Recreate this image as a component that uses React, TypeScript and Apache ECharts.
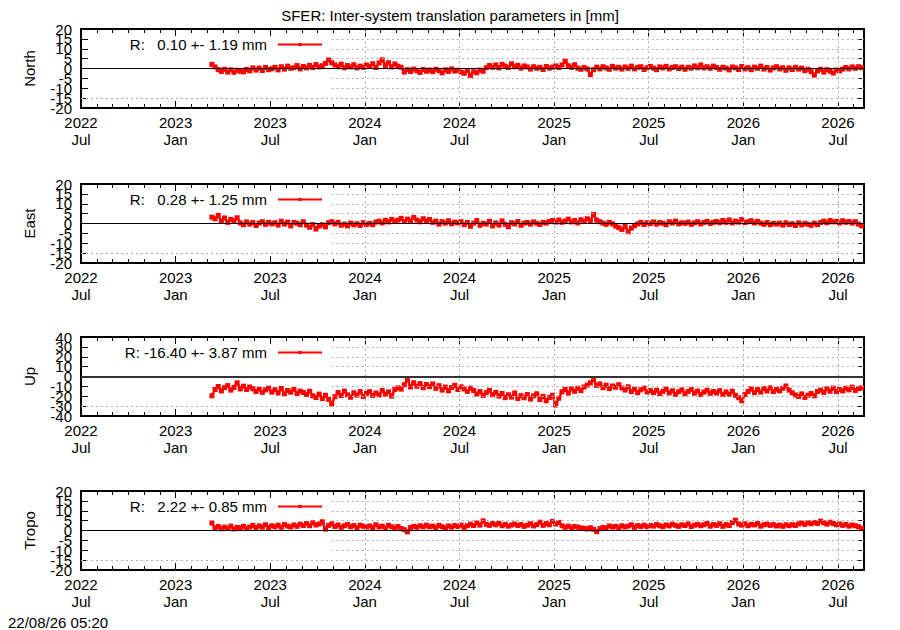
import React, { useEffect, useRef } from 'react';
import * as echarts from 'echarts';

const TITLE = 'SFER: Inter-system translation parameters in [mm]';
const TIMESTAMP = '22/08/26 05:20';
// x axis in months since 2022-07-01
const X_MIN = 0;
const X_MAX = 49.65;
const X_TICK_LABELS = ['2022\nJul', '2023\nJan', '2023\nJul', '2024\nJan', '2024\nJul', '2025\nJan', '2025\nJul', '2026\nJan', '2026\nJul'];
const SAMPLE_START = 8.3;
const SAMPLE_STEP = 0.2;

const PANEL_NAMES = ['North', 'East', 'Up', 'Tropo'];
const LEGEND_NAMES = ['R:   0.10 +- 1.19 mm', 'R:   0.28 +- 1.25 mm', 'R: -16.40 +- 3.87 mm', 'R:   2.22 +- 0.85 mm'];
const Y_MIN = [-20, -20, -40, -20];
const Y_MAX = [20, 20, 40, 20];
const Y_STEP = [5, 5, 10, 5];

const NORTH = [
  2.1, 0.8, -0.6, -1.5, -0.4, -1.8, -0.7, -1.9, -0.9, -1.4,
  -1.7, -0.5, -1.2, 0.3, -0.8, 0.2, -1.0, 0.5, -0.6, -0.1,
  0.6, -0.7, 0.9, -0.3, 1.2, 0.1, 0.4, 1.5, -0.2, 1.0,
  0.3, 1.6, 0.5, 2.0, 0.8, 1.4, 2.6, 4.3, 2.9, 1.8,
  0.9, 2.2, 0.4, 1.5, 0.8, 1.9, 0.3, 1.2, 0.6, 1.8,
  1.0, 2.4, 0.5, 2.8, 4.4, 1.6, 2.9, 0.8, 2.3, 1.2,
  0.6, -1.8, -0.6, -1.5, -0.3, -1.2, -2.0, -0.5, -1.4, -0.8,
  -1.6, -0.4, -1.1, -2.2, -0.7, -1.5, -0.2, -1.3, -0.9, -1.8,
  -2.4, -1.0, -3.5, -1.6, -2.2, -0.8, -1.4, 0.4, 1.5, 0.6,
  1.8, 0.3, 2.1, 1.2, 0.5, 2.4, 0.9, 1.6, 0.2, 1.3,
  0.8, -0.3, 0.9, 0.1, 0.6, -0.5, 1.0, 0.2, 0.7, 1.3,
  0.5, 1.8, 3.7, 1.4, 0.6, 1.9, 0.2, -0.4, 0.5, -0.2,
  -3.1, -0.6, 0.7, -0.2, 0.9, 0.3, -0.4, 1.1, 0.2, 0.6,
  -0.3, 0.8, 0.1, 1.2, -0.2, 0.6, 0.9, -0.5, 0.4, 1.0,
  0.2, -0.6, 0.8, 0.3, 1.1, -0.2, 0.5, 0.9, 0.0, 0.7,
  -0.4, 0.6, 0.2, 1.3, 0.4, 1.8, 0.3, 0.9, 0.1, 1.2,
  0.5, -0.4, 0.6, 0.2, -0.7, 0.8, 0.3, -0.5, 1.0, -0.2,
  0.4, -0.6, 0.7, 0.1, 1.2, -0.3, 0.5, -0.8, 0.3, 0.9,
  -0.2, 0.4, -0.9, 0.3, -0.5, 0.6, -0.3, 0.2, -1.1, -0.4,
  -1.6, -3.3, -1.2, -0.4, -1.8, -0.6, -1.4, -2.3, -0.8, -1.2,
  -0.3, 0.5, -0.2, 0.8, 0.1, 0.9, 0.4,
];

const EAST = [
  3.2, 2.4, 4.1, 1.2, 2.8, 0.6, 2.1, 1.4, 2.9, 0.3,
  -0.6, 0.8, -0.3, 0.5, -1.0, 0.2, 0.9, -0.4, 0.6, -0.2,
  0.4, -0.8, 1.1, -0.3, 0.7, -1.2, 0.5, 0.1, -0.6, 0.9,
  -0.8, -1.9, -0.5, -2.8, -1.3, -0.6, -1.7, 0.4, 0.9, -0.2,
  0.6, -0.9, -0.3, -1.2, 0.2, -0.7, -0.1, -1.0, 0.4, -0.5,
  0.1, -0.6, 0.7, 1.2, 0.3, 1.6, 0.8, 2.1, 1.1, 1.7,
  2.6, 1.0, 2.2, 1.4, 3.1, 1.7, 0.9, 2.4, 1.3, 2.0,
  0.6, 1.2, -0.3, 0.9, 0.2, 1.4, -0.1, 0.7, 0.3, 0.9,
  -0.6, 0.5, -1.4, 0.2, 1.5, -0.9, 0.1, -0.3, 1.1, -1.2,
  0.3, -0.8, 1.3, -0.4, -1.6, 0.4, -0.2, 1.0, -0.9, 0.2,
  0.5, -0.3, 0.8, 0.1, -0.5, 0.6, 0.2, 1.0, 1.5, 0.7,
  1.8, 0.6, 1.3, 2.2, 0.8, 1.5, 0.3, 1.9, 1.1, 2.4,
  1.4, 4.6, 1.7, 0.9, 0.2, -0.4, 0.6, -0.2, -1.3, -2.1,
  -3.0, -1.4, -4.2, -2.3, -1.1, -0.2, 0.6, -0.5, 0.4, -0.1,
  0.8, -0.3, 0.5, 0.1, -0.6, 0.9, 0.2, 1.2, -0.2, 0.4,
  0.1, 0.7, -0.4, 0.3, 0.9, -0.2, 0.5, 1.1, 0.0, 0.6,
  1.0, 0.4, 1.5, 0.6, 1.8, 0.3, 1.2, 0.7, 2.0, 0.5,
  0.9, 1.4, 0.3, 1.1, 0.2, -0.4, 0.5, -0.6, 0.1, -0.3,
  0.2, -0.8, 0.4, -0.5, -0.1, -1.0, 0.3, -0.7, 0.1, -0.4,
  -0.9, 0.2, -0.6, 0.5, 1.2, 0.4, 1.5, 0.8, 1.1, 0.3,
  1.4, 0.6, 1.0, 0.2, 0.9, -0.3, -1.2,
];

const UP = [
  -19.5, -13.2, -10.1, -14.6, -11.3, -9.2, -13.8, -11.0, -6.4, -12.5,
  -9.8, -13.1, -10.6, -12.4, -15.2, -12.8, -16.0, -13.5, -11.9, -15.8,
  -13.4, -16.7, -12.1, -17.5, -14.2, -15.9, -13.0, -17.3, -14.8, -16.2,
  -18.1, -14.9, -19.6, -21.3, -17.8, -22.4, -19.0, -23.1, -27.8, -20.5,
  -16.2, -19.4, -14.8, -18.6, -21.0, -16.5, -18.9, -15.3, -20.2, -17.1,
  -15.4, -19.2, -16.8, -18.7, -14.1, -17.9, -15.6, -19.8, -13.2, -11.5,
  -12.8, -8.4, -2.9, -10.6, -6.3, -9.9, -7.2, -11.4, -8.1, -10.3,
  -7.5, -12.0, -9.3, -13.8, -10.7, -14.5, -11.1, -8.9, -13.2, -10.4,
  -12.6, -15.1, -11.8, -14.2, -17.9, -15.3, -19.2, -16.4, -14.0, -18.6,
  -16.1, -19.8, -17.2, -21.4, -18.5, -20.9, -16.7, -22.3, -19.4, -21.6,
  -18.2, -22.8, -19.6, -17.5, -23.4, -20.1, -24.6, -21.3, -19.0, -28.9,
  -22.0, -15.4, -13.1, -16.8, -12.5, -15.0, -11.8, -14.3, -10.6, -8.7,
  -6.4, -3.2, -9.1, -7.5, -11.3, -8.8, -12.2, -9.6, -10.9, -8.3,
  -11.6, -13.7, -10.4, -15.2, -12.9, -16.4, -13.5, -11.8, -15.7, -14.1,
  -16.3, -13.9, -17.2, -15.0, -12.8, -16.6, -14.4, -18.1, -15.5, -13.6,
  -17.4, -15.1, -13.3, -16.9, -14.7, -18.3, -15.8, -13.9, -17.0, -15.2,
  -16.7, -14.3, -18.4, -15.6, -17.9, -14.8, -19.1, -21.5, -24.6, -18.3,
  -15.2, -12.6, -16.4, -13.3, -15.8, -12.1, -14.7, -11.5, -15.3, -13.0,
  -14.6, -11.9, -9.6, -13.8, -16.5, -18.7, -20.3, -17.6, -21.2, -18.9,
  -17.2, -19.6, -15.3, -13.8, -16.1, -12.4, -14.9, -11.7, -15.4, -13.2,
  -14.6, -11.9, -13.5, -10.8, -14.1, -12.3, -11.6,
];

const TROPO = [
  3.8, 1.2, 2.0, 0.9, 1.7, 1.1, 2.2, 0.8, 1.6, 1.3,
  2.1, 1.0, 1.8, 2.6, 1.4, 2.3, 1.7, 2.9, 1.5, 2.4,
  1.9, 2.7, 1.6, 3.0, 2.2, 1.8, 2.8, 2.1, 3.2, 2.5,
  3.5, 2.4, 3.9, 2.8, 3.3, 4.4, 0.7, 2.6, 3.4, 2.0,
  2.8, 1.6, 2.4, 3.0, 1.9, 2.5, 1.4, 2.7, 2.1, 1.7,
  2.3, 1.5, 2.9, 1.8, 2.2, 1.3, 2.6, 1.9, 1.2, 2.0,
  1.0, 0.4, -0.7, 1.5, 2.1, 1.6, 2.4, 1.8, 2.7, 1.9,
  2.2, 1.5, 2.6, 1.9, 1.3, 2.3, 1.7, 2.5, 2.0, 2.8,
  1.6, 2.4, 3.2, 2.5, 3.8, 2.7, 4.9, 3.1, 2.6, 3.5,
  2.9, 3.6, 2.4, 3.1, 2.2, 2.8, 3.3, 2.5, 3.0, 2.1,
  2.7, 3.4, 2.3, 3.0, 4.2, 2.6, 3.5, 2.9, 4.6, 3.3,
  4.1, 2.4, 1.6, 2.2, 1.4, 2.0, 1.7, 1.3, 1.1, 0.8,
  1.4, 0.6, -0.6, 0.9, 1.5, 1.2, 2.3, 1.7, 2.1, 1.5,
  2.4, 1.8, 2.2, 2.9, 1.6, 2.5, 2.0, 2.7, 1.9, 2.6,
  2.2, 3.0, 2.4, 1.9, 2.8, 2.3, 3.2, 2.6, 2.1, 2.9,
  2.5, 3.3, 2.0, 2.7, 3.1, 2.4, 2.9, 3.5, 2.2, 3.0,
  2.6, 3.4, 2.1, 3.0, 2.5, 4.0, 5.2, 3.3, 2.7, 3.4,
  2.4, 3.1, 2.8, 3.5, 2.2, 2.9, 3.2, 2.6, 3.0, 2.3,
  2.7, 2.1, 2.9, 2.4, 3.0, 2.5, 3.3, 3.8, 3.1, 4.0,
  3.4, 4.1, 3.6, 4.8, 3.9, 3.2, 4.2, 3.5, 2.9, 3.3,
  2.6, 3.1, 2.2, 2.8, 2.4, 1.9, 1.0,
];

const SERIES_VALUES = [NORTH, EAST, UP, TROPO];

// layout / style (not data)
const FONT = 'Liberation Sans, Arial, Helvetica, sans-serif';
const PLOT_LEFT = 81;
const PLOT_RIGHT = 36;
const PANEL_TOP = [29, 184, 337, 491];
const PANEL_HEIGHT = 79;
const GRID_START = 15.9; // grid lines are hidden left of this (key area)
const RED = '#ff0000';

function xLabel(v: number): string {
  const idx = Math.round(v / 6);
  if (Math.abs(v - idx * 6) > 1e-6) return '';
  return X_TICK_LABELS[idx] ?? '';
}

function buildOption() {
  const grid: any[] = [];
  const xAxis: any[] = [];
  const yAxis: any[] = [];
  const series: any[] = [];
  const legend: any[] = [];

  PANEL_NAMES.forEach((name, i) => {
    grid.push({ left: PLOT_LEFT, right: PLOT_RIGHT, top: PANEL_TOP[i], height: PANEL_HEIGHT, containLabel: false });
    const baseX = {
      type: 'value', gridIndex: i, min: X_MIN, max: X_MAX,
      splitLine: { show: false },
      axisLine: { show: true, onZero: false, lineStyle: { color: '#000', width: 2 } },
    };
    xAxis.push({
      ...baseX, position: 'bottom', interval: 6,
      axisTick: { show: true, inside: true, length: 7, lineStyle: { color: '#000', width: 1 } },
      axisLabel: {
        show: true, formatter: xLabel, color: '#000', fontSize: 15, fontFamily: FONT,
        lineHeight: 17, margin: 6, showMaxLabel: false,
      },
    });
    xAxis.push({
      ...baseX, position: 'bottom', interval: 1,
      axisTick: { show: true, inside: true, length: 4, lineStyle: { color: '#000', width: 1 } },
      axisLabel: { show: false },
    });
    xAxis.push({
      ...baseX, position: 'top', interval: 6,
      axisTick: { show: true, inside: true, length: 7, lineStyle: { color: '#000', width: 1 } },
      axisLabel: { show: false },
    });
    xAxis.push({
      ...baseX, position: 'top', interval: 1,
      axisTick: { show: true, inside: true, length: 4, lineStyle: { color: '#000', width: 1 } },
      axisLabel: { show: false },
    });

    const lo = Y_MIN[i];
    const hi = Y_MAX[i];
    const st = Y_STEP[i];
    const isInner = (v: number) => Math.abs(v - (lo + st)) < 1e-6 || Math.abs(v - (hi - st)) < 1e-6;
    const baseY = {
      type: 'value', gridIndex: i, min: lo, max: hi, interval: st,
      splitLine: { show: false },
      axisLine: { show: true, onZero: false, lineStyle: { color: '#000', width: 2 } },
      axisTick: { show: true, inside: true, length: 7, lineStyle: { color: '#000', width: 1 } },
    };
    const labelStyle = { show: true, color: '#000', fontSize: 15, fontFamily: FONT, margin: 9 };
    // main left axis: all labels except the second-from-edge ones
    yAxis.push({
      ...baseY, position: 'left',
      name, nameLocation: 'middle', nameRotate: 90, nameGap: 44,
      nameTextStyle: { color: '#000', fontSize: 15, fontFamily: FONT },
      axisLabel: {
        ...labelStyle, showMinLabel: true, showMaxLabel: true,
        formatter: (v: number) => (isInner(v) ? '' : String(v)),
      },
    });
    yAxis.push({ ...baseY, position: 'right', axisLabel: { show: false } });
    // second left axis carrying only the labels next to the edges
    yAxis.push({
      ...baseY, position: 'left',
      axisLine: { show: false }, axisTick: { show: false },
      axisLabel: {
        ...labelStyle, showMinLabel: false, showMaxLabel: false,
        formatter: (v: number) => (isInner(v) ? String(v) : ''),
      },
    });

    const xi = i * 4;
    const yi = i * 3;

    const gridLines: any[] = [];
    for (let v = lo + st; v < hi; v += st) {
      if (v === 0) continue;
      const x0 = v <= lo + st ? X_MIN : GRID_START;
      gridLines.push([{ coord: [x0, v] }, { coord: [X_MAX, v] }]);
    }
    for (let t = 6; t < X_MAX; t += 6) {
      if (t < GRID_START) continue;
      gridLines.push([{ coord: [t, lo] }, { coord: [t, hi] }]);
    }
    series.push({
      type: 'line', xAxisIndex: xi, yAxisIndex: yi, data: [], z: 1, silent: true,
      markLine: {
        silent: true, symbol: ['none', 'none'], label: { show: false },
        lineStyle: { color: '#b0b0b0', type: [2, 3], width: 1 },
        emphasis: { disabled: true },
        data: gridLines,
      },
    });

    const values = SERIES_VALUES[i];
    series.push({
      name: LEGEND_NAMES[i],
      type: 'line', xAxisIndex: xi, yAxisIndex: yi, z: 3,
      data: values.map((v, k) => [SAMPLE_START + k * SAMPLE_STEP, v]),
      symbol: 'rect', symbolSize: 5, showSymbol: true,
      lineStyle: { color: RED, width: 2.5 },
      itemStyle: { color: RED },
      clip: true,
    });

    series.push({
      type: 'line', xAxisIndex: xi, yAxisIndex: yi, data: [], z: 5, silent: true,
      markLine: {
        silent: true, symbol: ['none', 'none'], label: { show: false },
        lineStyle: { color: i === 2 ? '#333' : '#000', type: 'solid', width: i === 2 ? 2 : 1 },
        emphasis: { disabled: true },
        data: [{ yAxis: 0 }],
      },
    });

    legend.push({
      data: [LEGEND_NAMES[i]],
      right: 900 - 323, top: PANEL_TOP[i] + 8, align: 'right', padding: 0,
      itemWidth: 44, itemHeight: 4, selectedMode: false,
      textStyle: { color: '#000', fontSize: 15, fontFamily: FONT, padding: [0, 6, 0, 0] },
    });
  });

  return {
    animation: false,
    backgroundColor: '#fff',
    title: {
      text: TITLE, left: 'center', top: 3,
      textStyle: { color: '#000', fontSize: 15, fontWeight: 'normal', fontFamily: FONT },
    },
    grid, xAxis, yAxis, series, legend,
    graphic: [
      { type: 'text', left: 8, top: 615, style: { text: TIMESTAMP, fill: '#000', font: `15px ${FONT}` } },
    ],
  };
}

export default function App() {
  const ref = useRef<HTMLDivElement>(null);
  useEffect(() => {
    document.body.style.margin = '0';
    const chart = echarts.init(ref.current!, undefined, { renderer: 'svg' });
    chart.setOption(buildOption() as any);
    return () => chart.dispose();
  }, []);
  return <div ref={ref} style={{ width: 900, height: 630 }} />;
}
